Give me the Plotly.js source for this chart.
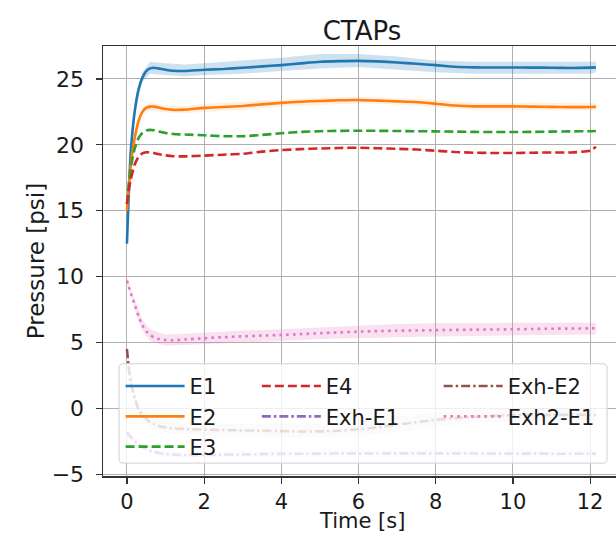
<!DOCTYPE html>
<html>
<head>
<meta charset="utf-8">
<script src="https://cdn.plot.ly/plotly-3.0.1.min.js"></script>
<style>
html,body{margin:0;padding:0;overflow:hidden;background:#fff;}
#chart{width:640px;height:534px;}
</style>
</head>
<body>
<div id="chart"></div>
<script>
// ---- data ----
const time = [0, 0.05, 0.1, 0.2, 0.3, 0.4, 0.5, 0.6, 0.7, 0.8, 1.0, 1.2, 1.5, 2, 2.5, 3, 3.5, 4, 4.5, 5, 5.5, 6, 6.5, 7, 7.5, 8, 8.5, 9, 9.5, 10, 10.5, 11, 11.5, 12, 12.15];

const e1 = [12.5, 16.5, 19.5, 22.5, 24.2, 25.1, 25.6, 25.8, 25.85, 25.8, 25.7, 25.62, 25.6, 25.7, 25.75, 25.85, 25.95, 26.05, 26.18, 26.3, 26.35, 26.37, 26.33, 26.25, 26.15, 26.05, 25.93, 25.88, 25.87, 25.87, 25.86, 25.85, 25.83, 25.86, 25.88];
const e2 = [15.0, 17.0, 18.5, 20.5, 21.8, 22.5, 22.8, 22.9, 22.9, 22.85, 22.72, 22.65, 22.67, 22.8, 22.87, 22.95, 23.07, 23.18, 23.27, 23.33, 23.38, 23.4, 23.35, 23.3, 23.25, 23.12, 22.98, 22.92, 22.92, 22.92, 22.9, 22.88, 22.86, 22.87, 22.88];
const e3 = [15.5, 17.0, 18.3, 19.7, 20.5, 20.9, 21.08, 21.13, 21.1, 21.02, 20.9, 20.82, 20.78, 20.72, 20.65, 20.65, 20.75, 20.88, 20.98, 21.03, 21.06, 21.07, 21.06, 21.05, 21.03, 21.02, 21.0, 20.98, 20.97, 20.97, 20.98, 21.0, 21.02, 21.03, 21.05];
const e4 = [15.5, 16.6, 17.4, 18.5, 19.1, 19.35, 19.43, 19.43, 19.38, 19.3, 19.2, 19.13, 19.12, 19.18, 19.25, 19.32, 19.48, 19.6, 19.67, 19.72, 19.76, 19.78, 19.74, 19.7, 19.64, 19.55, 19.45, 19.4, 19.38, 19.38, 19.4, 19.42, 19.42, 19.55, 19.85];
const exhE1 = [-1.8, -2.0, -2.2, -2.5, -2.75, -2.95, -3.1, -3.22, -3.3, -3.37, -3.47, -3.52, -3.55, -3.55, -3.52, -3.5, -3.48, -3.46, -3.45, -3.44, -3.43, -3.43, -3.43, -3.42, -3.42, -3.42, -3.43, -3.43, -3.44, -3.44, -3.44, -3.45, -3.45, -3.45, -3.45];
const exhE2 = [4.5, 3.0, 2.0, 0.8, -0.1, -0.5, -0.8, -1.05, -1.2, -1.32, -1.45, -1.52, -1.58, -1.62, -1.65, -1.68, -1.7, -1.73, -1.76, -1.75, -1.7, -1.6, -1.45, -1.25, -1.05, -0.88, -0.75, -0.65, -0.57, -0.52, -0.5, -0.5, -0.5, -0.5, -0.5];
const exh2E1 = [9.7, 9.2, 8.7, 7.9, 7.0, 6.3, 5.85, 5.55, 5.38, 5.27, 5.18, 5.17, 5.22, 5.32, 5.4, 5.46, 5.52, 5.57, 5.63, 5.7, 5.76, 5.82, 5.86, 5.89, 5.91, 5.93, 5.95, 5.97, 5.98, 6.0, 6.02, 6.04, 6.05, 6.07, 6.08];

// raw-signal envelopes (min / max of the noisy raw data)
const timeRaw = [0, 0.2, 0.4, 0.6, 1, 1.5, 2, 3, 4, 5, 6, 7, 8, 9, 10, 11, 12, 12.15];
const e1Hi = [12.5, 22.8, 25.5, 26.3, 26.2, 26.1, 26.2, 26.4, 26.6, 26.9, 26.9, 26.7, 26.4, 26.3, 26.3, 26.3, 26.3, 26.3];
const e1Lo = [12.2, 22.2, 24.8, 25.4, 25.3, 25.2, 25.3, 25.4, 25.6, 25.8, 25.9, 25.7, 25.5, 25.4, 25.4, 25.4, 25.4, 25.5];
const e2Hi = [15.2, 20.8, 22.8, 23.2, 23.0, 22.95, 23.1, 23.25, 23.45, 23.6, 23.65, 23.55, 23.4, 23.2, 23.2, 23.15, 23.15, 23.15];
const e2Lo = [14.8, 20.2, 22.2, 22.6, 22.45, 22.4, 22.5, 22.65, 22.9, 23.05, 23.15, 23.05, 22.85, 22.65, 22.65, 22.6, 22.6, 22.6];
const exh2E1Hi = [9.9, 8.3, 6.7, 6.0, 5.6, 5.65, 5.75, 5.9, 6.0, 6.15, 6.3, 6.4, 6.45, 6.5, 6.5, 6.5, 6.55, 6.5];
const exh2E1Lo = [9.5, 7.5, 5.9, 5.1, 4.75, 4.8, 4.9, 5.0, 5.1, 5.25, 5.35, 5.4, 5.45, 5.5, 5.5, 5.55, 5.6, 5.6];
const exhE2Hi = [4.6, 1.2, -0.1, -0.6, -1.0, -1.1, -1.2, -1.2, -1.2, -1.2, -1.0, -0.6, -0.3, -0.1, 0.0, 0.0, 0.0, 0.0];
const exhE2Lo = [4.3, 0.4, -0.9, -1.5, -1.9, -2.0, -2.05, -2.1, -2.2, -2.2, -2.1, -1.8, -1.4, -1.1, -1.0, -1.0, -1.0, -1.0];
const exhE1Hi = [-1.7, -2.3, -2.8, -3.0, -3.25, -3.3, -3.3, -3.25, -3.2, -3.2, -3.2, -3.2, -3.2, -3.2, -3.2, -3.2, -3.2, -3.2];
const exhE1Lo = [-1.9, -2.7, -3.2, -3.5, -3.7, -3.8, -3.8, -3.75, -3.7, -3.7, -3.7, -3.7, -3.7, -3.7, -3.7, -3.7, -3.7, -3.7];

const seriesNames = ['E1', 'E2', 'E3', 'E4', 'Exh-E1', 'Exh-E2', 'Exh2-E1'];
const xTicks = [0, 2, 4, 6, 8, 10, 12];
const yTicks = [-5, 0, 5, 10, 15, 20, 25];
const yTickText = ['\u22125', '0', '5', '10', '15', '20', '25'];
const xTitle = 'Time [s]';
const yTitle = 'Pressure [psi]';

// ---- styling ----
const FONT = 'DejaVu Sans, sans-serif';
const TXT = '#1a1a1a';

function band(lo, hi, color) {
  return [
    {x: timeRaw, y: lo, type: 'scatter', mode: 'lines', line: {width: 0, color: color},
     showlegend: false, hoverinfo: 'skip'},
    {x: timeRaw, y: hi, type: 'scatter', mode: 'lines', line: {width: 0, color: color},
     fill: 'tonexty', fillcolor: color, showlegend: false, hoverinfo: 'skip'}
  ];
}

function line(y, name, color, dash, legend, group) {
  return {x: time, y: y, name: name, type: 'scatter', mode: 'lines',
          line: {color: color, width: 2.6, dash: dash, shape: 'spline', smoothing: 0.5},
          legend: legend, legendgroup: group};
}

const data = [].concat(
  band(e1Lo, e1Hi, 'rgba(31,119,180,0.22)'),
  band(e2Lo, e2Hi, 'rgba(255,127,14,0.12)'),
  band(exh2E1Lo, exh2E1Hi, 'rgba(227,119,194,0.22)'),
  band(exhE2Lo, exhE2Hi, 'rgba(140,86,75,0.12)'),
  band(exhE1Lo, exhE1Hi, 'rgba(148,103,189,0.12)'),
  [
    line(e1, seriesNames[0], '#1f77b4', 'solid', 'legend', 'g1'),
    line(e2, seriesNames[1], '#ff7f0e', 'solid', 'legend', 'g2'),
    line(e3, seriesNames[2], '#2ca02c', '9px,4px', 'legend', 'g3'),
    line(e4, seriesNames[3], '#d62728', '9px,4px', 'legend2', 'g4'),
    line(exhE1, seriesNames[4], '#9467bd', '9px,3px,2.5px,3px', 'legend2', 'g5'),
    line(exhE2, seriesNames[5], '#8c564b', '9px,3px,2.5px,3px', 'legend3', 'g6'),
    line(exh2E1, seriesNames[6], '#e377c2', '2.6px,4.2px', 'legend3', 'g7')
  ]
);

function legendAt(x) {
  return {x: x, y: 0.256, xanchor: 'left', yanchor: 'top', orientation: 'v',
          bgcolor: 'rgba(0,0,0,0)', borderwidth: 0, itemwidth: 59, tracegroupgap: 0,
          font: {family: FONT, size: 21, color: TXT}, itemclick: false};
}

// legend frame (rounded rectangle, paper coordinates)
const bx0 = 0.031, bx1 = 0.973, by0 = 0.030, by1 = 0.261, rx = 0.008, ry = 0.009;
const framePath = `M${bx0+rx},${by0} L${bx1-rx},${by0} Q${bx1},${by0} ${bx1},${by0+ry} ` +
  `L${bx1},${by1-ry} Q${bx1},${by1} ${bx1-rx},${by1} L${bx0+rx},${by1} Q${bx0},${by1} ${bx0},${by1-ry} ` +
  `L${bx0},${by0+ry} Q${bx0},${by0} ${bx0+rx},${by0} Z`;

const axisCommon = {
  showgrid: true, gridcolor: '#b0b0b0', gridwidth: 1,
  showline: true, linecolor: '#333', linewidth: 1.5, mirror: true,
  ticks: 'outside', ticklen: 6, tickwidth: 1.2, tickcolor: '#333',
  zeroline: false, tickmode: 'array'
};

const layout = {
  width: 640, height: 534,
  margin: {l: 103, r: 19, t: 46, b: 58},
  paper_bgcolor: '#fff', plot_bgcolor: '#fff',
  font: {family: FONT, color: TXT},
  title: {text: 'CTAPs', font: {family: FONT, size: 26, color: TXT},
          xref: 'paper', x: 0.5, xanchor: 'center', yref: 'paper', y: 1, yanchor: 'bottom', pad: {b: 6}},
  xaxis: Object.assign({}, axisCommon, {
    range: [-0.62, 12.8], tickvals: xTicks, ticktext: xTicks.map(String),
    tickfont: {family: FONT, size: 21, color: TXT}
  }),
  yaxis: Object.assign({}, axisCommon, {
    range: [-5.14, 27.5], tickvals: yTicks, ticktext: yTickText.map(s => s + '\u00a0'),
    tickfont: {family: FONT, size: 22, color: TXT},
    automargin: true,
    title: {text: yTitle, font: {family: FONT, size: 23, color: TXT}, standoff: 0}
  }),
  annotations: [{text: xTitle, xref: 'paper', yref: 'paper', x: 0.5, y: -0.1349,
                 xanchor: 'center', yanchor: 'bottom', showarrow: false, borderpad: 0,
                 font: {family: FONT, size: 21, color: TXT}}],
  shapes: [{type: 'path', xref: 'paper', yref: 'paper', path: framePath, layer: 'above',
            fillcolor: 'rgba(255,255,255,0.8)', line: {color: '#d0d0d0', width: 1}}],
  legend: legendAt(0.034),
  legend2: legendAt(0.297),
  legend3: legendAt(0.648),
  showlegend: true
};

Plotly.newPlot('chart', data, layout, {displayModeBar: false, staticPlot: true});
</script>
</body>
</html>
